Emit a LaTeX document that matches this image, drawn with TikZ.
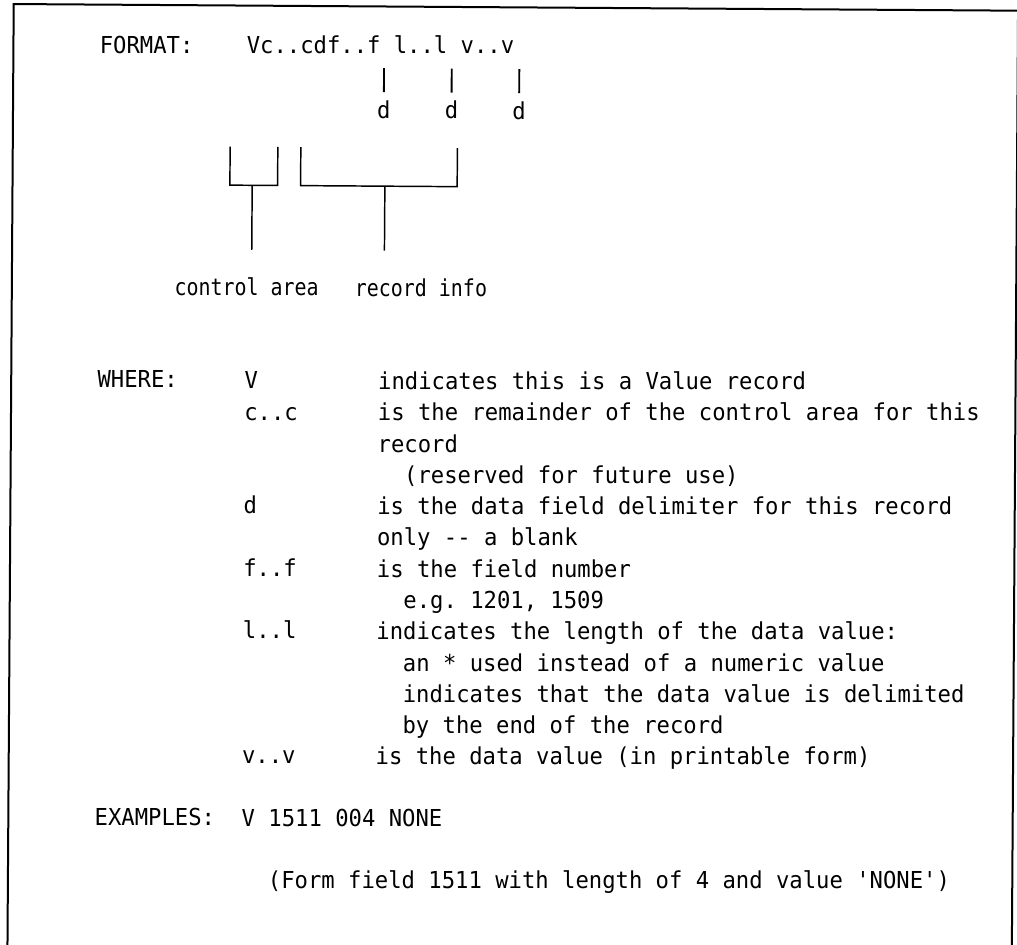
\documentclass[tikz,border=0pt]{standalone}
\usepackage{fontspec}
% typewriter face for the record layout, slightly condensed
\setmonofont[FakeStretch=0.952]{DejaVu Sans Mono}
% narrower face for the two bracket labels
\newfontfamily\labelfont[FakeStretch=0.855]{DejaVu Sans Mono}
\begin{document}
\begin{tikzpicture}[x=0.75pt,y=-0.75pt,
  txt/.style={inner sep=0pt, outer sep=0pt, anchor=base west,
    font=\ttfamily\fontsize{17.5pt}{21pt}\selectfont},
  dmark/.style={inner sep=0pt, outer sep=0pt, anchor=base,
    font=\ttfamily\fontsize{17.5pt}{21pt}\selectfont},
  lbl/.style={inner sep=0pt, outer sep=0pt, anchor=base,
    font=\labelfont\fontsize{17.5pt}{21pt}\selectfont},
  frameline/.style={line width=1.5pt},
  bracketline/.style={line width=1.1pt},
  tickline/.style={line width=1.4pt}]
\useasboundingbox (0,0) rectangle (1017,945);
\clip (0,0) rectangle (1017,945);
\begin{scope}[rotate around={-0.38:(508,472)}]

% open frame (left, top, right)
\draw[frameline] (10.6,960) -- (10.6,7.3) -- (1015,7.3) -- (1015,960);

% ---------- FORMAT line ----------
\node[txt] (fmt)    at (97,55.7)  {FORMAT:};
\node[txt] (layout) at (244,55.7) {Vc..cdf..f l..l v..v};

% delimiter markers
\coordinate (t1) at (381.4,69); \coordinate (t1b) at (381.4,93);
\coordinate (t2) at (449.1,69); \coordinate (t2b) at (449.1,93);
\coordinate (t3) at (516.7,69); \coordinate (t3b) at (516.7,93);
\draw[tickline] (t1) -- (t1b);
\draw[tickline] (t2) -- (t2b);
\draw[tickline] (t3) -- (t3b);
\node[dmark] (d1) at (381.4,119) {d};
\node[dmark] (d2) at (449.1,119) {d};
\node[dmark] (d3) at (516.7,119) {d};

% control area bracket
\coordinate (caL) at (228,148.5);
\coordinate (caR) at (275.7,148.5);
\coordinate (caS) at (250.3,187);
\coordinate (caE) at (250.3,251.5);
\draw[bracketline] (caL) |- (caR |- caS) -- (caR);
\draw[bracketline] (caS) -- (caE);

% record info bracket
\coordinate (riL) at (298.7,148.5);
\coordinate (riR) at (455.3,148.5);
\coordinate (riS) at (383,187);
\coordinate (riE) at (383,251.5);
\draw[bracketline] (riL) |- (riR |- riS) -- (riR);
\draw[bracketline] (riS) -- (riE);

\node[lbl] (calbl) at (245.5,297.5) {control area};
\node[lbl] (rilbl) at (419.8,297.5) {record info};

% ---------- WHERE section ----------
\node[txt] (where) at (97,390.5) {WHERE:};
\node[txt] (kV)  at (244,390.5)   {V};
\node[txt] (dV)  at (377.6,390.5) {indicates this is a Value record};

\node[txt] (kc)  at (244,421.75)   {c..c};
\node[txt] (dc1) at (377.6,421.75) {is the remainder of the control area for this};
\node[txt] (dc2) at (377.6,453)    {record};
\node[txt] (dc3) at (404.3,484.25) {(reserved for future use)};

\node[txt] (kd)  at (244,515.5)    {d};
\node[txt] (dd1) at (377.6,515.5)  {is the data field delimiter for this record};
\node[txt] (dd2) at (377.6,546.75) {only -- a blank};

\node[txt] (kf)  at (244,578)      {f..f};
\node[txt] (df1) at (377.6,578)    {is the field number};
\node[txt] (df2) at (404.3,609.25) {e.g. 1201, 1509};

\node[txt] (kl)  at (244,640.5)    {l..l};
\node[txt] (dl1) at (377.6,640.5)  {indicates the length of the data value:};
\node[txt] (dl2) at (404.3,671.75) {an * used instead of a numeric value};
\node[txt] (dl3) at (404.3,703)    {indicates that the data value is delimited};
\node[txt] (dl4) at (404.3,734.25) {by the end of the record};

\node[txt] (kv)  at (244,765.5)    {v..v};
\node[txt] (dv)  at (377.6,765.5)  {is the data value (in printable form)};

% ---------- EXAMPLES ----------
\node[txt] (ex)  at (97,828)  {EXAMPLES:};
\node[txt] (ex1) at (244,828) {V 1511 004 NONE};
\node[txt] (ex2) at (270.7,890.5) {(Form field 1511 with length of 4 and value 'NONE')};

\end{scope}
\end{tikzpicture}
\end{document}
